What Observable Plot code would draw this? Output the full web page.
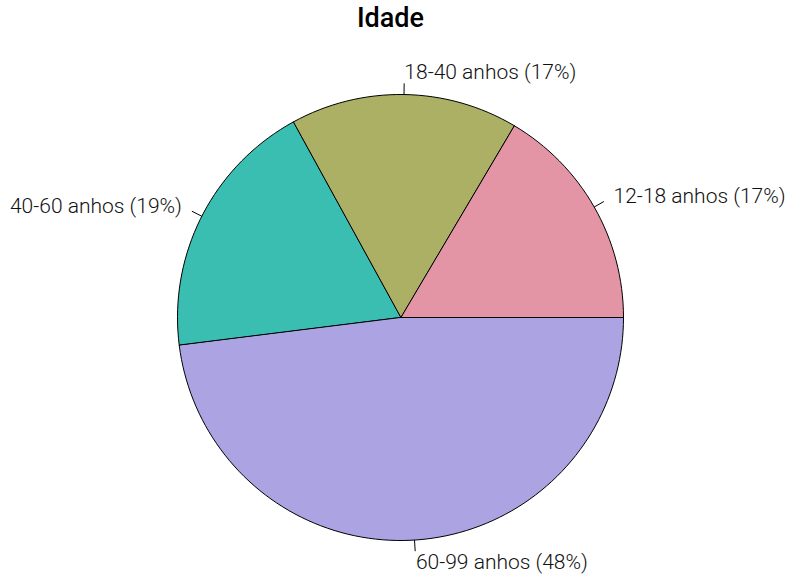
<!DOCTYPE html>
<html><head><meta charset="utf-8">
<script src="https://cdn.jsdelivr.net/npm/d3@7"></script>
<script src="https://cdn.jsdelivr.net/npm/@observablehq/plot@0.6"></script>
<style>body{margin:0;background:#fff}</style>
</head><body><div id="chart"></div>
<script>
const title = "Idade";
const categories = ["12-18 anhos", "18-40 anhos", "40-60 anhos", "60-99 anhos"];
const values = [16.5, 16.5, 19, 48];
const percentLabels = ["17%", "17%", "19%", "48%"];
const colors = ["#E495A5", "#ABB065", "#39BEB1", "#ACA4E2"];

const total = d3.sum(values);
const edges = 200;
let acc = 0;
const slices = categories.map((c, i) => {
  const t0 = acc / total; acc += values[i]; const t1 = acc / total;
  return {cat: c, t0, t1, label: `${c} (${percentLabels[i]})`, color: colors[i]};
});
const poly = [];
slices.forEach(s => {
  const n = Math.max(2, Math.floor(edges * (s.t1 - s.t0)));
  for (let k = 0; k < n; k++) {
    const t = s.t0 + (s.t1 - s.t0) * k / (n - 1);
    const a = 2 * Math.PI * t;
    poly.push({cat: s.cat, x: Math.cos(a), y: Math.sin(a)});
  }
  poly.push({cat: s.cat, x: 0, y: 0});
});
const ticks = slices.map(s => {
  const a = Math.PI * (s.t0 + s.t1);
  const cx = Math.cos(a), cy = Math.sin(a);
  return {x1: cx, y1: cy, x2: 1.05 * cx, y2: 1.05 * cy, tx: 1.1 * cx, ty: 1.1 * cy, label: s.label, right: cx > 0};
});

const chart = Plot.plot({
  width: 794, height: 574,
  margin: 0,
  style: {fontFamily: "Roboto", background: "#fff"},
  x: {domain: [-1, 1], range: [177, 623], axis: null},
  y: {domain: [-1, 1], range: [540, 94], axis: null},
  color: {domain: categories, range: colors},
  marks: [
    Plot.line(poly, {x: "x", y: "y", z: "cat", fill: "cat", stroke: "black", strokeWidth: 1, curve: "linear-closed"}),
    Plot.link(ticks, {x1: "x1", y1: "y1", x2: "x2", y2: "y2", stroke: "black", strokeWidth: 1}),
    Plot.text(ticks.filter(d => d.right), {x: "tx", y: "ty", text: "label", textAnchor: "start", fontSize: 21, fontWeight: 300, fill: "#111"}),
    Plot.text(ticks.filter(d => !d.right), {x: "tx", y: "ty", text: "label", textAnchor: "end", fontSize: 21, fontWeight: 300, fill: "#111"}),
    Plot.text([title], {frameAnchor: "top", dx: -7, dy: 18, text: d => d, fontSize: 27, fontWeight: 500, fill: "#000", lineAnchor: "middle"})
  ]
});
document.getElementById("chart").appendChild(chart);
</script>
</body></html>
